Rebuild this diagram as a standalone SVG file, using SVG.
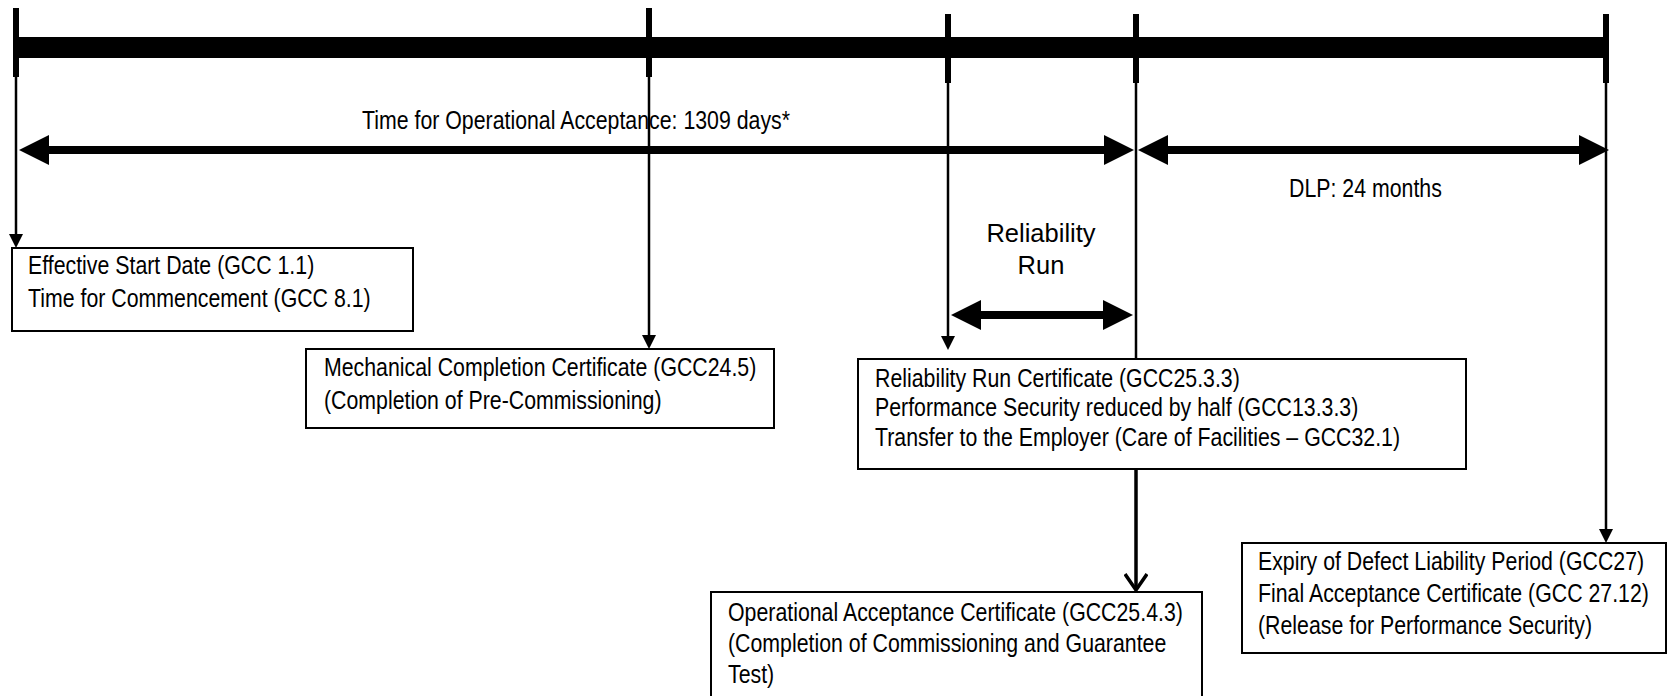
<svg xmlns="http://www.w3.org/2000/svg" width="1668" height="696" viewBox="0 0 1668 696">
<style>
  .box{fill:#fff;stroke:#000;stroke-width:2}
  .t{font-family:"Liberation Sans",Arial,sans-serif;font-size:26px;fill:#000}
  .tr{font-family:"Liberation Sans",Arial,sans-serif;font-size:25.5px;fill:#000}
  .tick{stroke:#000;stroke-width:6;fill:none}
  .thin{stroke:#000;stroke-width:2.5;fill:none}
  .dbl{stroke:#000;stroke-width:8;fill:none}
</style>
<defs>
  <marker id="big" viewBox="0 0 30 30" markerUnits="userSpaceOnUse" markerWidth="30" markerHeight="30" refX="2" refY="15" orient="auto-start-reverse">
    <path d="M0,0 L30,15 L0,30 Z" fill="#000"/>
  </marker>
  <marker id="small" viewBox="0 0 14 14" markerUnits="userSpaceOnUse" markerWidth="14" markerHeight="14" refX="4" refY="7" orient="auto">
    <path d="M0,0 L14,7 L0,14 Z" fill="#000"/>
  </marker>
  <marker id="vee" viewBox="0 0 20 24" markerUnits="userSpaceOnUse" markerWidth="20" markerHeight="24" refX="17" refY="12" orient="auto">
    <path d="M1,1 L17,12 L1,23" fill="none" stroke="#000" stroke-width="3.5"/>
  </marker>
</defs>

<g id="connectors">
  <rect id="timeline-bar" x="16" y="37" width="1590" height="21" fill="#000"/>
  <line class="tick" x1="16" y1="8" x2="16" y2="77"/>
  <line class="tick" x1="649" y1="8" x2="649" y2="77"/>
  <line class="tick" x1="948" y1="14" x2="948" y2="83"/>
  <line class="tick" x1="1136" y1="14" x2="1136" y2="83"/>
  <line class="tick" x1="1606" y1="14" x2="1606" y2="83"/>

  <line class="thin" x1="16" y1="77" x2="16" y2="238" marker-end="url(#small)"/>
  <line class="thin" x1="649" y1="77" x2="649" y2="339" marker-end="url(#small)"/>
  <line class="thin" x1="948" y1="83" x2="948" y2="340" marker-end="url(#small)"/>
  <line class="thin" x1="1136" y1="83" x2="1136" y2="360"/>
  <line x1="1136" y1="469" x2="1136" y2="590" stroke="#000" stroke-width="3.5" marker-end="url(#vee)"/>
  <line class="thin" x1="1606" y1="83" x2="1606" y2="533" marker-end="url(#small)"/>

  <line class="dbl" x1="47" y1="150" x2="1106" y2="150" marker-start="url(#big)" marker-end="url(#big)"/>
  <line class="dbl" x1="1166" y1="150" x2="1581" y2="150" marker-start="url(#big)" marker-end="url(#big)"/>
  <line class="dbl" x1="979" y1="315" x2="1105" y2="315" marker-start="url(#big)" marker-end="url(#big)"/>

  <text class="t" transform="translate(362,129) scale(0.82,1)">Time for Operational Acceptance: 1309 days*</text>
  <text class="t" transform="translate(1289,197) scale(0.82,1)">DLP: 24 months</text>
  <text class="tr" text-anchor="middle" x="1041" y="242">Reliability</text>
  <text class="tr" text-anchor="middle" x="1041" y="274">Run</text>
</g>

<g id="node-start">
  <rect class="box" x="12" y="248" width="401" height="83"/>
  <text class="t" transform="translate(28,274) scale(0.82,1)">
    <tspan x="0" y="0">Effective Start Date (GCC 1.1)</tspan>
    <tspan x="0" y="33">Time for Commencement (GCC 8.1)</tspan>
  </text>
</g>

<g id="node-mechanical">
  <rect class="box" x="306" y="349" width="468" height="79"/>
  <text class="t" transform="translate(324,376) scale(0.82,1)">
    <tspan x="0" y="0">Mechanical Completion Certificate (GCC24.5)</tspan>
    <tspan x="0" y="33">(Completion of Pre-Commissioning)</tspan>
  </text>
</g>

<g id="node-reliability">
  <rect class="box" x="858" y="359" width="608" height="110"/>
  <text class="t" transform="translate(875,387) scale(0.82,1)">
    <tspan x="0" y="0">Reliability Run Certificate (GCC25.3.3)</tspan>
    <tspan x="0" y="29">Performance Security reduced by half (GCC13.3.3)</tspan>
    <tspan x="0" y="59">Transfer to the Employer (Care of Facilities – GCC32.1)</tspan>
  </text>
</g>

<g id="node-operational">
  <rect class="box" x="711" y="592" width="491" height="110"/>
  <text class="t" transform="translate(728,621) scale(0.82,1)">
    <tspan x="0" y="0">Operational Acceptance Certificate (GCC25.4.3)</tspan>
    <tspan x="0" y="31">(Completion of Commissioning and Guarantee</tspan>
    <tspan x="0" y="62">Test)</tspan>
  </text>
</g>

<g id="node-final">
  <rect class="box" x="1242" y="543" width="424" height="110"/>
  <text class="t" transform="translate(1258,570) scale(0.82,1)">
    <tspan x="0" y="0">Expiry of Defect Liability Period (GCC27)</tspan>
    <tspan x="0" y="32">Final Acceptance Certificate (GCC 27.12)</tspan>
    <tspan x="0" y="64">(Release for Performance Security)</tspan>
  </text>
</g>
</svg>
